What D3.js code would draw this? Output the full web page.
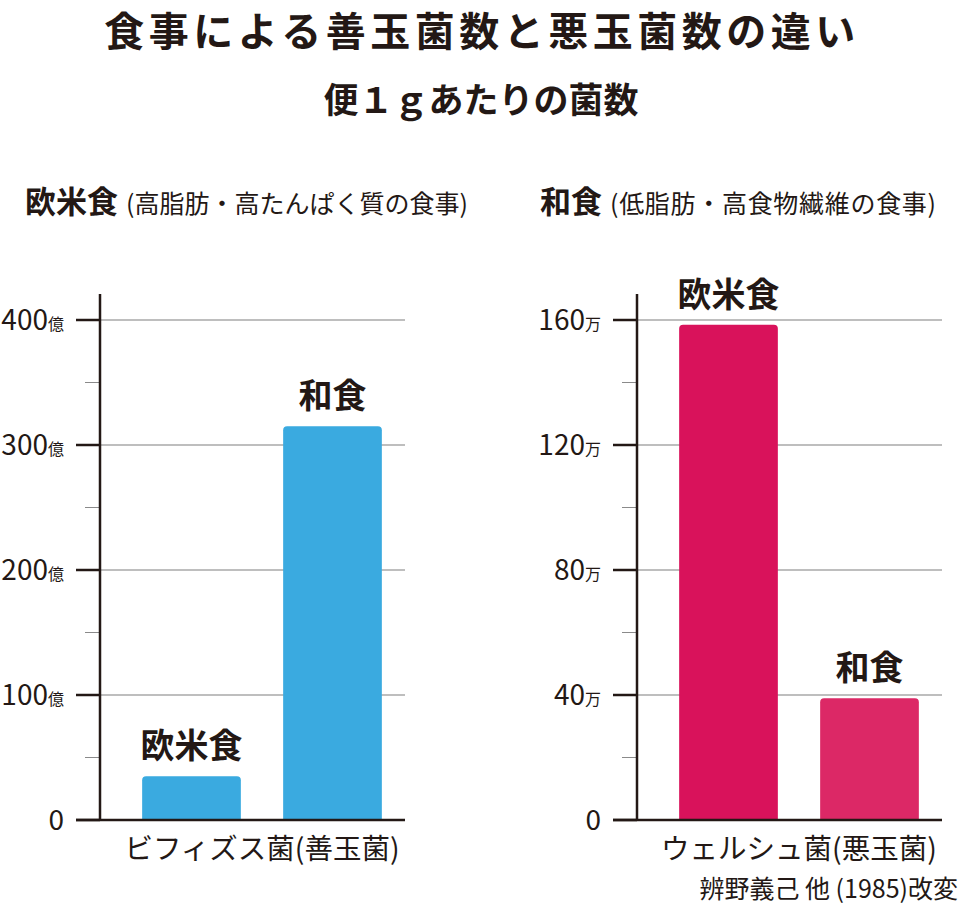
<!DOCTYPE html>
<html><head><meta charset="utf-8">
<script src="https://cdn.jsdelivr.net/npm/d3@7"></script>
<style>
html,body{margin:0;padding:0;background:#fff;}
text{font-family:"Noto Sans CJK JP","Noto Sans",sans-serif;fill:#231815;}
</style></head>
<body>
<svg id="chart" width="960" height="905"></svg>
<script>
// ---- data ----
const dietCategories = ["欧米食", "和食"];
const bifidoValues = [35, 315];      // 億 per g
const welchiiValues = [158.5, 39];   // 万 per g
const leftTicks = [0, 100, 200, 300, 400];
const leftMinorTicks = [50, 150, 250, 350];
const rightTicks = [0, 40, 80, 120, 160];
const rightMinorTicks = [20, 60, 100, 140];
const leftUnit = "億";
const rightUnit = "万";
const titleText = "食事による善玉菌数と悪玉菌数の違い";
const subtitleText = "便１ｇあたりの菌数";
const leftPanelTitle = ["欧米食", "(高脂肪・高たんぱく質の食事)"];
const rightPanelTitle = ["和食", "(低脂肪・高食物繊維の食事)"];
const leftXLabel = "ビフィズス菌(善玉菌)";
const rightXLabel = "ウェルシュ菌(悪玉菌)";
const sourceText = "辨野義己 他 (1985)改変";

const svg = d3.select("#chart");
const ink = "#231815";

svg.append("text").attr("x", 482).attr("y", 46).attr("text-anchor", "middle")
  .style("font-size", "40px").style("font-weight", 700).style("letter-spacing", "4.5px").text(titleText);
svg.append("text").attr("x", 481).attr("y", 113).attr("text-anchor", "middle")
  .style("font-size", "35px").style("font-weight", 700).text(subtitleText);

function panel(opts) {
  const g = svg.append("g");
  const y = d3.scaleLinear().domain(opts.domain).range([820, 320]);
  const x = d3.scaleBand().domain(dietCategories).range([opts.axisX + 21, opts.axisX + 303])
    .paddingInner(0.3).paddingOuter(0.15);
  const right = opts.axisX + 305;

  // panel title
  const t = g.append("text").attr("x", opts.titleX).attr("y", 213);
  t.append("tspan").style("font-size", "31px").style("font-weight", 700).text(opts.title[0]);
  t.append("tspan").attr("dx", 8).style("font-size", "25px").style("letter-spacing", opts.ls).text(opts.title[1]);

  // gridlines
  g.selectAll(".grid").data(opts.ticks.filter(d => d > 0)).join("line")
    .attr("x1", opts.axisX).attr("x2", right)
    .attr("y1", d => y(d)).attr("y2", d => y(d))
    .attr("stroke", "#a9a9a9").attr("stroke-width", 1.3);

  // bars
  const barW = x.bandwidth();
  const r = 4;
  g.selectAll(".bar").data(opts.values).join("path")
    .attr("fill", (d, i) => opts.colors[i])
    .attr("d", (d, i) => {
      const x0 = x(dietCategories[i]), y0 = y(d), y1 = y(0);
      return `M${x0},${y1}V${y0 + r}Q${x0},${y0} ${x0 + r},${y0}H${x0 + barW - r}Q${x0 + barW},${y0} ${x0 + barW},${y0 + r}V${y1}Z`;
    });

  // bar labels
  g.selectAll(".blab").data(opts.values).join("text")
    .attr("x", (d, i) => x(dietCategories[i]) + barW / 2)
    .attr("y", d => y(d) - 18)
    .attr("text-anchor", "middle")
    .style("font-size", "34px").style("font-weight", 700)
    .text((d, i) => dietCategories[i]);

  // minor ticks
  g.selectAll(".minor").data(opts.minor).join("line")
    .attr("x1", opts.axisX - 15).attr("x2", opts.axisX)
    .attr("y1", d => y(d)).attr("y2", d => y(d))
    .attr("stroke", "#8a8a8a").attr("stroke-width", 1);

  // major ticks
  g.selectAll(".major").data(opts.ticks).join("line")
    .attr("x1", opts.axisX - 24).attr("x2", opts.axisX)
    .attr("y1", d => y(d)).attr("y2", d => y(d))
    .attr("stroke", ink).attr("stroke-width", 2.5);

  // baseline
  g.append("line").attr("x1", opts.axisX - 24).attr("x2", right)
    .attr("y1", y(0)).attr("y2", y(0)).attr("stroke", ink).attr("stroke-width", 2.5);
  // axis line
  g.append("line").attr("x1", opts.axisX).attr("x2", opts.axisX)
    .attr("y1", 294).attr("y2", y(0) + 1).attr("stroke", ink).attr("stroke-width", 2.5);

  // tick labels
  const tl = g.selectAll(".tl").data(opts.ticks).join("text")
    .attr("x", opts.axisX - 36).attr("y", d => y(d) + 10)
    .attr("text-anchor", "end");
  tl.append("tspan").style("font-size", "28px").text(d => d);
  tl.append("tspan").style("font-size", "16px").text(d => d === 0 ? "" : opts.unit);

  // x label
  g.append("text").attr("x", opts.axisX + 162).attr("y", 859).attr("text-anchor", "middle")
    .style("font-size", "28.5px").text(opts.xLabel);
}

panel({axisX: 100, domain: [0, 400], ticks: leftTicks, minor: leftMinorTicks, unit: leftUnit,
  values: bifidoValues, colors: ["#3aaae0", "#3aaae0"], title: leftPanelTitle, titleX: 25, ls: "0px", xLabel: leftXLabel});
panel({axisX: 637, domain: [0, 160], ticks: rightTicks, minor: rightMinorTicks, unit: rightUnit,
  values: welchiiValues, colors: ["#d9125b", "#dc2866"], title: rightPanelTitle, titleX: 540, ls: "0.7px", xLabel: rightXLabel});

svg.append("text").attr("x", 958).attr("y", 898).attr("text-anchor", "end")
  .style("font-size", "25px").text(sourceText);
</script>
</body></html>
